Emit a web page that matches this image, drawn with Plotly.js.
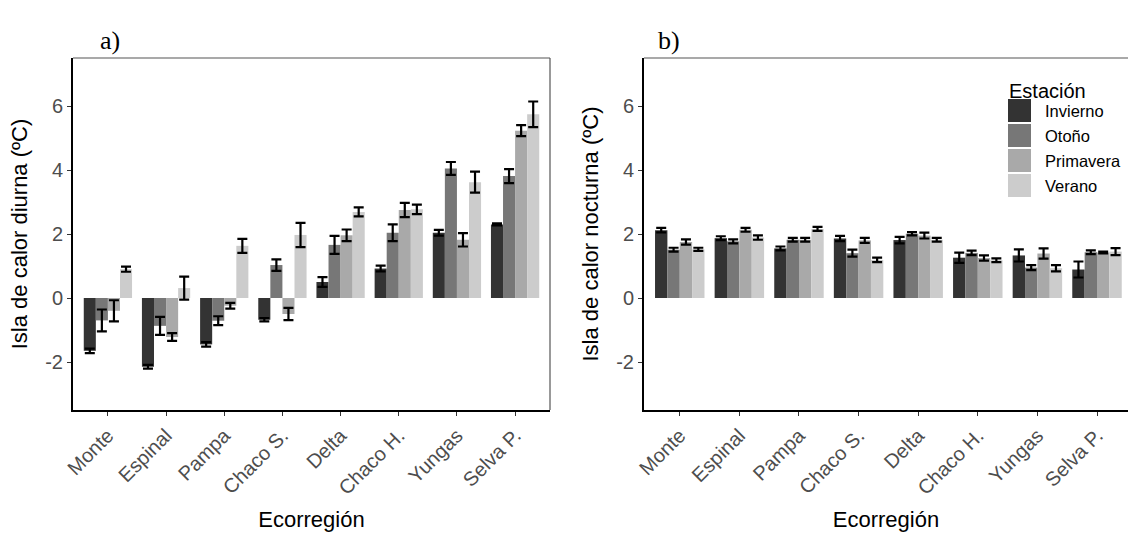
<!DOCTYPE html>
<html>
<head>
<meta charset="utf-8">
<script src="https://cdn.plot.ly/plotly-3.0.1.min.js"></script>
<style>html,body{margin:0;padding:0;background:#fff;}#chart{width:1128px;height:540px;}</style>
</head>
<body>
<div id="chart"></div>
<script>
// ---- data ----
var regions = ["Monte", "Espinal", "Pampa", "Chaco S.", "Delta", "Chaco H.", "Yungas", "Selva P."];
var seasons = ["Invierno", "Otoño", "Primavera", "Verano"];
var seasonColors = ["#333333", "#777777", "#a9a9a9", "#cccccc"];

// a) daytime heat island (ºC)
var dayInvierno  = [-1.65, -2.15, -1.45, -0.68, 0.50, 0.92, 2.04, 2.30];
var dayOtono     = [-0.70, -0.87, -0.71,  1.03, 1.66, 2.04, 4.05, 3.81];
var dayPrimavera = [-0.40, -1.22, -0.24, -0.50, 1.96, 2.75, 1.82, 5.23];
var dayVerano    = [ 0.90,  0.31,  1.63,  1.97, 2.69, 2.77, 3.62, 5.74];
var dayErrInvierno  = [0.07, 0.06, 0.07, 0.05, 0.15, 0.09, 0.09, 0.03];
var dayErrOtono     = [0.34, 0.28, 0.14, 0.18, 0.28, 0.26, 0.20, 0.22];
var dayErrPrimavera = [0.33, 0.12, 0.09, 0.19, 0.18, 0.22, 0.21, 0.17];
var dayErrVerano    = [0.08, 0.36, 0.22, 0.38, 0.14, 0.15, 0.33, 0.40];

// b) night-time heat island (ºC)
var nightInvierno  = [2.12, 1.87, 1.55, 1.86, 1.81, 1.26, 1.33, 0.89];
var nightOtono     = [1.51, 1.77, 1.82, 1.40, 2.01, 1.41, 0.95, 1.43];
var nightPrimavera = [1.75, 2.13, 1.82, 1.80, 1.95, 1.25, 1.39, 1.42];
var nightVerano    = [1.52, 1.89, 2.16, 1.19, 1.82, 1.18, 0.93, 1.45];
var nightErrInvierno  = [0.07, 0.06, 0.06, 0.08, 0.10, 0.16, 0.19, 0.25];
var nightErrOtono     = [0.06, 0.06, 0.06, 0.11, 0.05, 0.07, 0.08, 0.06];
var nightErrPrimavera = [0.08, 0.06, 0.06, 0.08, 0.09, 0.08, 0.16, 0.03];
var nightErrVerano    = [0.05, 0.07, 0.06, 0.07, 0.06, 0.06, 0.10, 0.11];

var yTickVals = [-2, 0, 2, 4, 6];
var yTickText = ["-2", "0", "2", "4", "6"];

var legendTitle = "Estación";
var xTitle = "Ecorregión";
var yTitleDay = "Isla de calor diurna (ºC)";
var yTitleNight = "Isla de calor nocturna (ºC)";

// ---- build ----
var dayVals = [dayInvierno, dayOtono, dayPrimavera, dayVerano];
var dayErrs = [dayErrInvierno, dayErrOtono, dayErrPrimavera, dayErrVerano];
var nightVals = [nightInvierno, nightOtono, nightPrimavera, nightVerano];
var nightErrs = [nightErrInvierno, nightErrOtono, nightErrPrimavera, nightErrVerano];

var W = 1128, H = 540;
var ML = 73, MR = 0, MT = 58, MB = 130;
var PW = W - ML - MR, PH = H - MT - MB;
function PX(x) { return (x - ML) / PW; }
function PY(y) { return (H - MB - y) / PH; }

var traces = [];
function addSet(vals, errs, xa, ya) {
  for (var i = 0; i < seasons.length; i++) {
    traces.push({
      type: "bar", x: regions, y: vals[i], name: seasons[i],
      xaxis: xa, yaxis: ya, showlegend: false,
      marker: {color: seasonColors[i], line: {width: 0}},
      error_y: {type: "data", array: errs[i], visible: true, color: "#000000", thickness: 2.2, width: 5},
      hovertemplate: "%{x}<br>" + seasons[i] + ": %{y}<extra></extra>"
    });
  }
}
addSet(dayVals, dayErrs, "x", "y");
addSet(nightVals, nightErrs, "x2", "y2");

var font = "Liberation Sans, Arial, sans-serif";
function xaxisDef(domain, range) {
  return {
    domain: domain, range: range, type: "category",
    showline: true, linecolor: "#000000", linewidth: 2,
    ticks: "outside", ticklen: 4, tickwidth: 1, tickcolor: "#333333",
    tickangle: -45, tickfont: {family: font, size: 20, color: "#4d4d4d"},
    showgrid: false, zeroline: false, automargin: false,
    title: {text: xTitle, font: {family: font, size: 22, color: "#000000"}, standoff: 14}
  };
}
function yaxisDef(anchor, title) {
  return {
    domain: [0, 1], range: [-3.5, 7.5], anchor: anchor,
    showline: true, linecolor: "#000000", linewidth: 2,
    ticks: "outside", ticklen: 4, tickwidth: 1, tickcolor: "#333333",
    tickvals: yTickVals, ticktext: yTickText,
    tickfont: {family: font, size: 20, color: "#4d4d4d"},
    showgrid: false, zeroline: false, automargin: false,
    title: {text: title, font: {family: font, size: 22, color: "#000000"}, standoff: 12}
  };
}

var layout = {
  width: W, height: H,
  margin: {l: ML, r: MR, t: MT, b: MB, pad: 0},
  paper_bgcolor: "#ffffff", plot_bgcolor: "#ffffff",
  barmode: "group", bargap: 0.17, bargroupgap: 0,
  showlegend: false,
  xaxis: xaxisDef([0, PX(550)], [-0.6, 7.6]),
  yaxis: yaxisDef("x", yTitleDay),
  xaxis2: xaxisDef([PX(644), 1], [-0.6, 7.52]),
  yaxis2: yaxisDef("x2", yTitleNight),
  shapes: [
    {type: "line", xref: "x domain", yref: "y domain", x0: 0, x1: 1, y0: 1, y1: 1, line: {color: "#555555", width: 1.2}},
    {type: "line", xref: "x domain", yref: "y domain", x0: 1, x1: 1, y0: 0, y1: 1, line: {color: "#555555", width: 1.2}},
    {type: "line", xref: "x2 domain", yref: "y2 domain", x0: 0, x1: 1, y0: 1, y1: 1, line: {color: "#555555", width: 1.2}}
  ],
  annotations: [
    {text: "a)", xref: "paper", yref: "paper", x: PX(98), y: PY(24), showarrow: false,
     font: {family: "Liberation Serif, serif", size: 26, color: "#000"}},
    {text: "b)", xref: "paper", yref: "paper", x: PX(669), y: PY(24), showarrow: false,
     font: {family: "Liberation Serif, serif", size: 26, color: "#000"}},
    {text: legendTitle, xref: "paper", yref: "paper", x: PX(1007), y: PY(78), xanchor: "left", showarrow: false,
     font: {family: font, size: 20, color: "#000"}}
  ]
};

// manual legend keys (legend, not data)
var keyTop = 99, keyH = 23, keyStep = 25;
for (var i = 0; i < seasons.length; i++) {
  var y0 = keyTop + i * keyStep;
  layout.shapes.push({type: "rect", xref: "paper", yref: "paper",
    x0: PX(1008), x1: PX(1031), y0: PY(y0 + keyH), y1: PY(y0),
    fillcolor: seasonColors[i], line: {width: 0}});
  layout.annotations.push({text: seasons[i], xref: "paper", yref: "paper",
    x: PX(1043), y: PY(y0 + keyH / 2), xanchor: "left", yanchor: "middle", showarrow: false,
    font: {family: font, size: 16.5, color: "#000"}});
}

Plotly.newPlot("chart", traces, layout, {displayModeBar: false, staticPlot: true});
</script>
</body>
</html>
